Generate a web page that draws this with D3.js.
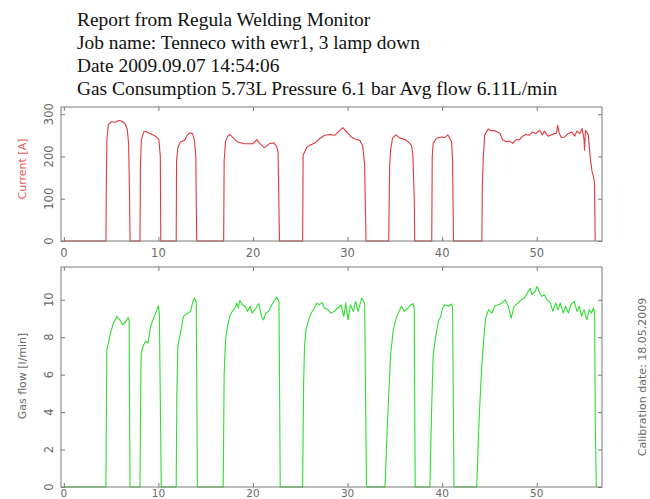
<!DOCTYPE html>
<html><head><meta charset="utf-8">
<script src="https://cdn.jsdelivr.net/npm/d3@7"></script>
<style>body{margin:0;background:#fff}svg{display:block}</style>
</head><body>
<svg id="c" width="650" height="499"></svg>
<script>
const titleLines = [
  "Report from Regula Welding Monitor",
  "Job name: Tenneco with ewr1, 3 lamp down",
  "Date 2009.09.07 14:54:06",
  "Gas Consumption 5.73L Pressure 6.1 bar Avg flow 6.11L/min"
];
const xTicks = [0, 10, 20, 30, 40, 50];
const currentTicks = [0, 100, 200, 300];
const flowTicks = [0, 2, 4, 6, 8, 10];
const currentLabel = "Current [A]";
const flowLabel = "Gas flow [l/min]";
const calibration = "Calibration date: 18.05.2009";

// [time s, current A]
const current = [
[0,0],[4.45,0],[4.5,150],[4.55,240],[4.7,275],[5.0,282],[5.4,281],[5.8,285],[6.1,284],[6.45,278],[6.7,265],[6.85,230],[6.95,100],[7.0,0],
[8.05,0],[8.1,180],[8.2,240],[8.45,258],[8.7,259],[9.05,255],[9.5,250],[9.8,246],[10.05,240],[10.2,200],[10.25,0],
[11.88,0],[11.92,190],[12.05,220],[12.3,234],[12.75,238],[13.05,250],[13.3,256],[13.6,254],[13.8,240],[13.95,200],[14.05,0],
[16.9,0],[16.95,190],[17.1,235],[17.3,247],[17.55,252],[17.9,244],[18.4,234],[19.1,230],[20.0,230],[20.4,240],[20.7,231],[21.2,221],[21.8,231],[22.2,232],[22.5,224],[22.65,210],[22.8,0],
[25.25,0],[25.3,203],[25.7,222],[26.05,227],[26.55,232],[27.1,243],[27.6,250],[28.1,252],[28.65,250],[29.0,258],[29.5,268],[29.9,258],[30.4,246],[30.9,240],[31.3,238],[31.6,225],[31.8,180],[31.95,0],
[34.35,0],[34.45,180],[34.55,215],[34.75,243],[35.1,251],[35.5,244],[36.05,240],[36.4,235],[36.75,226],[36.9,205],[37.05,100],[37.1,0],
[38.9,0],[38.95,200],[39.05,231],[39.4,243],[39.95,246],[40.3,245],[40.6,251],[40.85,242],[41.0,235],[41.1,190],[41.2,0],
[44.2,0],[44.25,136],[44.35,200],[44.5,251],[44.87,265],[45.2,261],[45.55,261],[46.1,255],[46.4,239],[46.8,235],[47.1,237],[47.45,231],[47.8,240],[48.15,239],[48.5,248],[48.85,252],[49.2,250],[49.55,258],[49.9,254],[50.3,262],[50.6,251],[50.8,260],[51.2,248],[51.5,251],[51.9,254],[52.1,255],[52.2,274],[52.3,262],[52.4,254],[52.6,245],[52.95,246],[53.3,254],[53.7,258],[54.0,248],[54.25,260],[54.55,254],[54.8,266],[55.0,240],[55.05,215],[55.15,262],[55.45,251],[55.65,199],[55.85,164],[56.0,152],[56.1,140],[56.18,0]
];

// [time s, gas flow l/min]
const gasFlow = [
[0,0],[4.45,0],[4.5,4],[4.55,7.33],[4.88,8.1],[5.2,8.7],[5.6,9.11],[5.93,8.93],[6.2,8.67],[6.55,8.84],[6.8,9.05],[6.9,8.9],[7.0,0],
[8.05,0],[8.15,6.5],[8.2,7.24],[8.45,7.6],[8.65,7.78],[8.9,7.69],[9.18,8.58],[9.42,8.93],[9.78,9.38],[10.0,9.68],[10.1,9.3],[10.3,0],
[11.88,0],[11.95,5],[12.05,7.5],[12.4,8.4],[12.65,9.11],[13.0,9.25],[13.4,9.38],[13.6,9.82],[13.8,10.09],[14.0,9.91],[14.12,0],
[16.85,0],[16.95,6],[17.1,7.86],[17.3,8.58],[17.55,9.11],[17.8,9.38],[18.1,9.56],[18.3,9.82],[18.45,9.56],[18.6,9.96],[18.85,9.73],[19.15,9.65],[19.4,9.38],[19.7,9.65],[19.9,9.29],[20.2,9.47],[20.6,9.79],[20.9,9.11],[21.1,8.93],[21.35,9.29],[21.65,9.38],[22.0,9.73],[22.25,9.95],[22.5,10.14],[22.75,9.91],[22.88,0],
[25.25,0],[25.35,5.5],[25.45,7.51],[25.6,8.4],[25.9,8.93],[26.15,9.29],[26.5,9.56],[26.75,9.82],[27.0,9.73],[27.3,9.86],[27.55,9.56],[27.9,9.47],[28.25,9.29],[28.6,9.38],[28.95,9.56],[29.3,9.73],[29.6,9.11],[29.8,9.82],[30.05,8.93],[30.3,9.73],[30.6,9.38],[30.85,9.91],[31.1,9.38],[31.5,10.09],[31.8,9.82],[32.0,0],
[33.95,0],[34.3,4.4],[34.55,7.06],[34.83,8.4],[35.2,9.11],[35.55,9.5],[35.7,9.65],[36.0,9.38],[36.4,9.56],[36.65,9.73],[36.95,9.79],[37.05,9.5],[37.15,0],
[38.7,0],[38.9,4.4],[39.05,7.06],[39.35,8.13],[39.6,8.84],[39.85,9.11],[40.05,9.56],[40.3,9.73],[40.65,9.65],[41.0,9.77],[41.1,9.6],[41.25,0],
[43.65,0],[43.9,3.5],[44.15,6.17],[44.4,7.95],[44.6,9.0],[44.9,9.47],[45.25,9.29],[45.6,9.68],[45.95,9.73],[46.3,9.82],[46.65,10.0],[47.0,9.65],[47.3,9.02],[47.6,9.65],[48.0,9.82],[48.35,10.0],[48.7,10.09],[49.0,10.36],[49.3,10.62],[49.5,10.27],[49.8,10.45],[50.05,10.71],[50.3,10.36],[50.55,10.18],[50.8,10.27],[51.1,10.0],[51.45,9.82],[51.7,9.38],[52.0,9.82],[52.25,9.47],[52.5,9.82],[52.8,9.29],[53.05,9.65],[53.35,9.29],[53.6,9.73],[53.95,9.91],[54.25,9.38],[54.5,9.65],[54.75,9.11],[55.0,9.47],[55.3,8.93],[55.55,9.47],[55.8,9.29],[56.0,9.56],[56.12,9.3],[56.2,3],[56.3,0]
];

const svg = d3.select("#c");
const frameColor = "#7a7a7a";
const textGray = "#6a6a6a";
const sans = "'DejaVu Sans', sans-serif";

svg.append("g").selectAll("text").data(titleLines).join("text")
  .attr("x", 77).attr("y", (d, i) => 25.5 + i * 23)
  .attr("font-family", "'Liberation Serif', 'Times New Roman', serif")
  .attr("font-size", 19.4).attr("fill", "#111").text(d => d);

const left = 61, right = 602;
const x = d3.scaleLinear().domain([-0.3, 56.9]).range([left, right]);

function panel(top, bottom, yDomain, yTicks, data, color, label, labelColor, labelY, xLabelDy, xLabelSize) {
  const y = d3.scaleLinear().domain(yDomain).range([bottom, top]);
  const g = svg.append("g");
  g.append("path").datum(data)
    .attr("fill", "none").attr("stroke", color).attr("stroke-width", 1.1)
    .attr("stroke-linejoin", "round")
    .attr("d", d3.line().x(d => x(d[0])).y(d => y(d[1])));
  g.append("rect").attr("x", left).attr("y", top)
    .attr("width", right - left).attr("height", bottom - top)
    .attr("fill", "none").attr("stroke", frameColor).attr("stroke-width", 1);
  const axB = g.append("g").attr("transform", `translate(0,${bottom})`)
    .call(d3.axisTop(x).tickValues(xTicks).tickSize(4).tickFormat(""));
  const axT = g.append("g").attr("transform", `translate(0,${top})`)
    .call(d3.axisBottom(x).tickValues(xTicks).tickSize(4).tickFormat(""));
  const axL = g.append("g").attr("transform", `translate(${left},0)`)
    .call(d3.axisRight(y).tickValues(yTicks).tickSize(4).tickFormat(""));
  const axR = g.append("g").attr("transform", `translate(${right},0)`)
    .call(d3.axisLeft(y).tickValues(yTicks).tickSize(4).tickFormat(""));
  [axB, axT, axL, axR].forEach(a => {
    a.select(".domain").remove();
    a.selectAll("line").attr("stroke", frameColor);
  });
  g.append("g").selectAll("text").data(xTicks).join("text")
    .attr("x", d => x(d)).attr("y", bottom + xLabelDy)
    .attr("text-anchor", "middle").attr("font-family", sans)
    .attr("font-size", xLabelSize).attr("fill", textGray).text(d => d);
  g.append("g").selectAll("text").data(yTicks).join("text")
    .attr("transform", d => `translate(53,${y(d)}) rotate(-90)`)
    .attr("text-anchor", "middle").attr("font-family", sans)
    .attr("font-size", 11.5).attr("fill", textGray).text(d => d);
  g.append("text")
    .attr("transform", `translate(26,${labelY}) rotate(-90)`)
    .attr("text-anchor", "middle").attr("font-family", sans)
    .attr("font-size", 11).attr("fill", labelColor).text(label);
}

panel(107, 241, [0, 317], currentTicks, current, "#e0393e", currentLabel, "#e35a5a", 169, 16, 11.5);
panel(267, 487, [0, 11.75], flowTicks, gasFlow, "#2ee02e", flowLabel, textGray, 376, 9.5, 10.5);

svg.append("text")
  .attr("transform", "translate(646,377) rotate(-90)")
  .attr("text-anchor", "middle").attr("font-family", sans)
  .attr("font-size", 11).attr("fill", textGray).text(calibration);
</script>
</body></html>
